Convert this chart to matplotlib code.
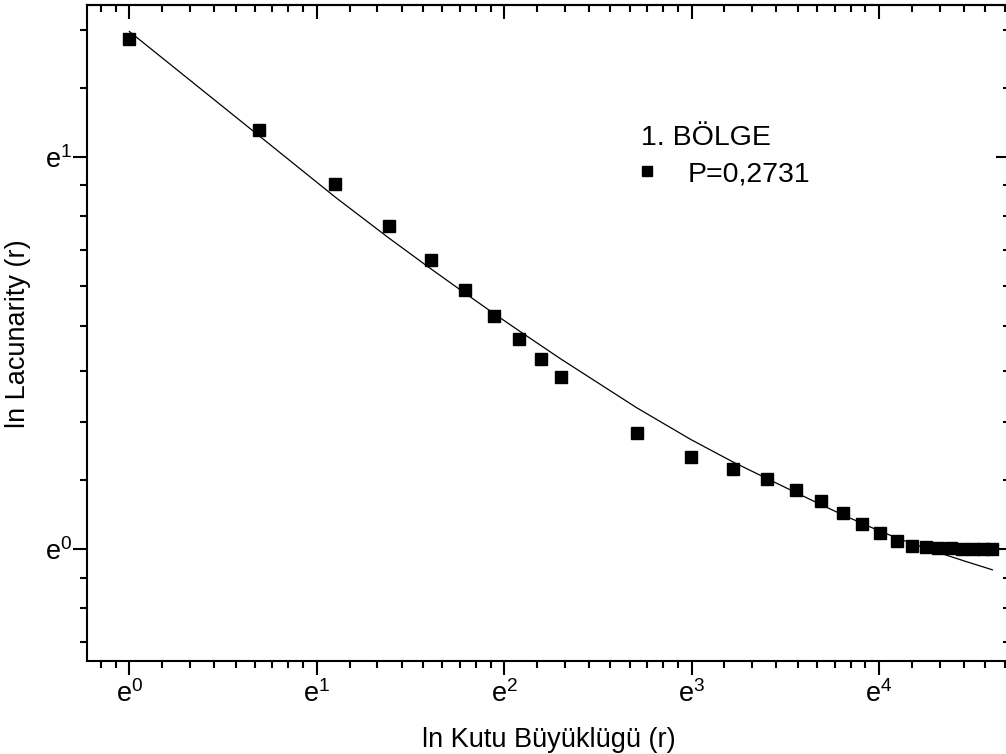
import numpy as np
import matplotlib
matplotlib.use("Agg")
import matplotlib.pyplot as plt
from matplotlib.ticker import FixedLocator, FuncFormatter, NullFormatter

plt.rcParams['font.family'] = ['Liberation Sans', 'DejaVu Sans']

# measured points (box size r, lacunarity)
box_size = [1, 2, 3, 4, 5, 6, 7, 8, 9, 10,
            15, 20, 25, 30, 35, 40, 45, 50, 55, 60,
            65, 70, 75, 80, 85, 90, 95, 100]
lacunarity = [3.67, 2.91, 2.535, 2.278, 2.088, 1.935, 1.811, 1.708, 1.623, 1.551,
              1.345, 1.263, 1.226, 1.194, 1.162, 1.130, 1.095, 1.065, 1.041, 1.021,
              1.0085, 1.006, 1.003, 1.002, 1.001, 1.001, 1.000, 1.000]

# fitted curve
fit_r = [1, 2, 3, 4, 5, 6, 7, 8, 9, 10, 15, 20, 25, 30, 35, 40, 45, 50,
         55, 60, 65, 75, 87, 100]
fit_L = [3.740, 2.866, 2.452, 2.208, 2.042, 1.919, 1.822, 1.744, 1.679, 1.623,
         1.433, 1.322, 1.249, 1.197, 1.155, 1.120, 1.091, 1.067,
         1.046, 1.029, 1.0145, 0.9908, 0.9683, 0.9483]

legend_title = '1. BÖLGE'
series_label = 'P=0,2731'
xlabel = 'ln Kutu Büyüklügü (r)'
ylabel = 'ln Lacunarity (r)'

E = np.e
fs = 19.5
lfs = 20.5

def minor_ticks(n0, n1):
    t = []
    for n in range(n0, n1):
        lo, hi = E ** n, E ** (n + 1)
        t += [lo + k * (hi - lo) / 9 for k in range(1, 9)]
    return t

fmt = FuncFormatter(lambda v, pos: r'$\mathregular{e^{%d}}$' % round(np.log(v)))

fig = plt.figure(figsize=(10.06, 7.54), dpi=100)
ax = fig.add_axes([0.0865, 0.1227, 0.9175, 0.8707])
ax.set_xscale('log', base=E)
ax.set_yscale('log', base=E)

ax.plot(fit_r, fit_L, color='black', lw=0.9)
ax.plot(box_size, lacunarity, 's', color='black', ms=8.5, label=series_label)

ax.set_xlim(E ** -0.226, E ** 4.6995)
ax.set_ylim(E ** -0.2868, E ** 1.3867)

xmaj = [E ** n for n in range(0, 5)]
ymaj = [E ** n for n in range(0, 2)]
xmin = minor_ticks(-1, 5)
ymin = minor_ticks(-1, 2)

ax.xaxis.set_major_locator(FixedLocator(xmaj))
ax.xaxis.set_minor_locator(FixedLocator(xmin))
ax.yaxis.set_major_locator(FixedLocator(ymaj))
ax.yaxis.set_minor_locator(FixedLocator(ymin))
ax.xaxis.set_major_formatter(fmt)
ax.yaxis.set_major_formatter(fmt)
ax.xaxis.set_minor_formatter(NullFormatter())
ax.yaxis.set_minor_formatter(NullFormatter())

ax.tick_params(which='major', direction='out', length=10, width=1.5, labelsize=fs)
ax.tick_params(which='minor', direction='out', length=5, width=1.5)
ax.tick_params(axis='y', which='major', pad=0.5)
for s in ax.spines.values():
    s.set_linewidth(1.5)

# top and right ticks point inward
same = (lambda v: v, lambda v: v)
top = ax.secondary_xaxis('top', functions=same)
right = ax.secondary_yaxis('right', functions=same)
for sec, axis, maj, mnr in [(top, top.xaxis, xmaj, xmin), (right, right.yaxis, ymaj, ymin)]:
    axis.set_major_locator(FixedLocator(maj))
    axis.set_minor_locator(FixedLocator(mnr))
    axis.set_major_formatter(NullFormatter())
    axis.set_minor_formatter(NullFormatter())
    sec.tick_params(which='major', direction='in', length=10, width=1.5)
    sec.tick_params(which='minor', direction='in', length=5, width=1.5)
    for s in sec.spines.values():
        s.set_linewidth(1.5)

ax.set_xlabel(xlabel, fontsize=fs, labelpad=14)
ax.set_ylabel(ylabel, fontsize=fs, labelpad=10)

leg = ax.legend(title=legend_title, loc='upper left', bbox_to_anchor=(0.600, 0.817),
                frameon=False, fontsize=lfs, title_fontsize=lfs, alignment='left',
                handlelength=0.4, handletextpad=1.25, markerscale=0.85,
                labelspacing=0.35, borderpad=0, borderaxespad=0)

fig.savefig('out.png', dpi=100)
